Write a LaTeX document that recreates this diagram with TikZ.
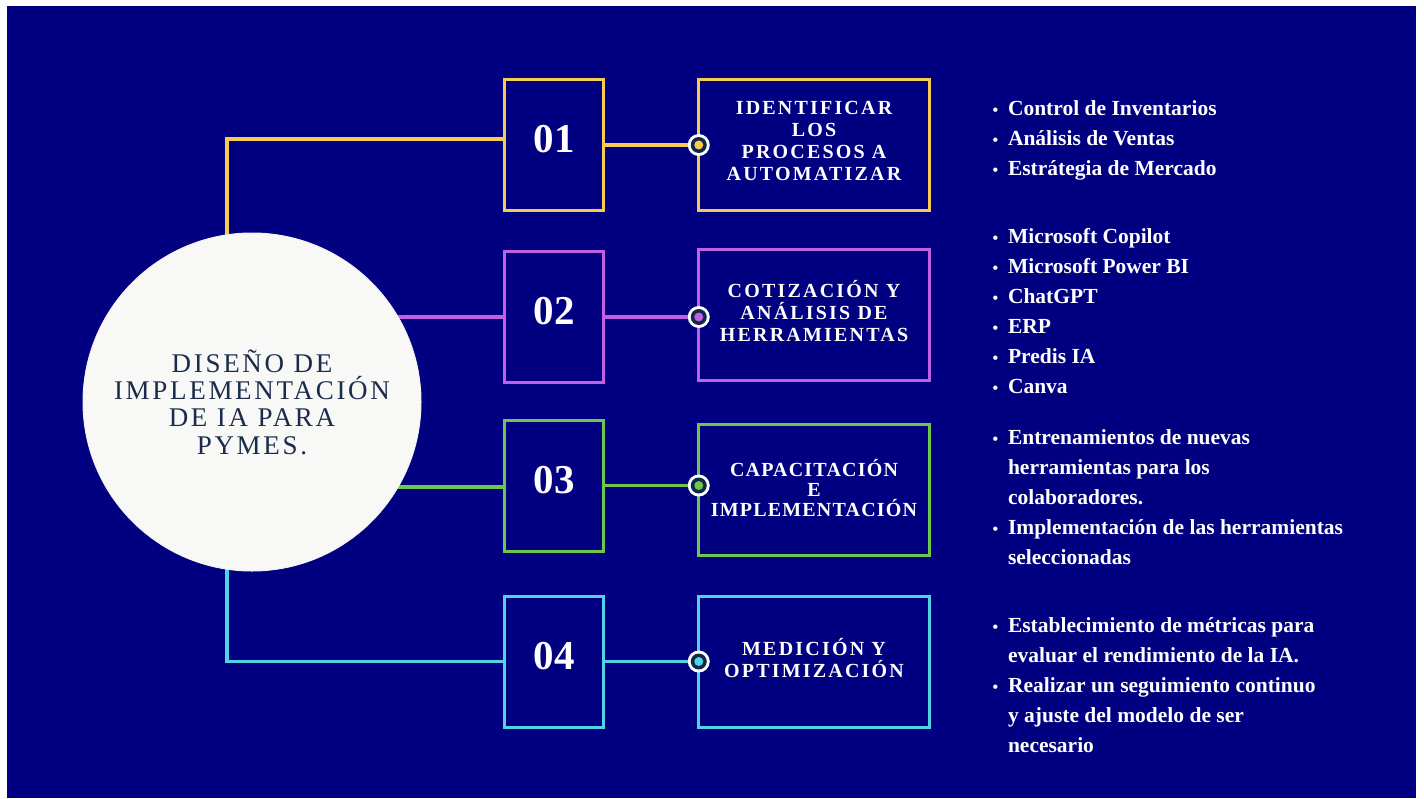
\documentclass[tikz,border=0pt]{standalone}
\usepackage{fontspec}
\setmainfont{Liberation Serif}
\newfontfamily\hubfont[LetterSpace=10]{Liberation Serif}
\newfontfamily\capfont[LetterSpace=11]{Liberation Serif}
\newfontfamily\tightcapfont[LetterSpace=6]{Liberation Serif}
\usepackage{xcolor}
\usetikzlibrary{positioning}

\definecolor{bgnavy}{RGB}{0,0,128}
\definecolor{cyel}{RGB}{246,203,79}
\definecolor{cpur}{RGB}{192,96,228}
\definecolor{cgrn}{RGB}{108,200,76}
\definecolor{ccya}{RGB}{80,210,232}
\definecolor{hubfill}{RGB}{248,248,246}
\definecolor{hubtext}{RGB}{26,43,76}
\definecolor{dotdark}{RGB}{16,40,72}

\pgfdeclarelayer{back}
\pgfdeclarelayer{wires}
\pgfsetlayers{back,wires,main}

\newcommand{\bul}{\rule{0pt}{16pt}\makebox[15.5pt][l]{\fontsize{16}{16}\selectfont\textbullet}}
\newcommand{\cont}{\hspace*{15.5pt}}

\begin{document}
\begin{tikzpicture}[x=1pt,y=-1pt]
\tikzstyle{every node}+=[inner sep=0pt,outer sep=0pt]
\tikzstyle{numbox}=[draw=#1,line width=3pt,minimum width=99pt,minimum height=131pt,
  text=white,text depth=12pt,font=\bfseries\fontsize{41}{41}\selectfont]
\tikzstyle{stepbox}=[draw=#1,line width=3pt,minimum width=230.5pt,minimum height=131pt,
  text=white,text depth=8pt,align=center,font=\capfont\bfseries\fontsize{20}{22}\selectfont]
\tikzstyle{wire}=[draw=#1,line width=3.2pt]
\tikzstyle{knob}=[circle,fill=white,minimum size=22pt,
  path picture={\fill[dotdark] (path picture bounding box.center) circle (8pt);
                \fill[#1] (path picture bounding box.center) circle (4.5pt);}]
\tikzstyle{bullets}=[anchor=north west,text=white,align=left,
  font=\bfseries\fontsize{21.5}{30}\selectfont]

% background
\begin{pgfonlayer}{back}
\fill[white] (0,0) rectangle (1424,798);
\fill[bgnavy] (7,6) rectangle (1416,798);
\end{pgfonlayer}

% centre
\node[circle,fill=hubfill,draw=black!6,line width=1pt,minimum size=338pt,text=hubtext,
  align=center,font=\hubfont\fontsize{27}{27.4}\selectfont] (hub) at (252,402)
  {DISEÑO DE\\IMPLEMENTACIÓN\\DE IA PARA\\PYMES.};

% steps
\node[numbox=cyel] (n1) at (554,145) {01};
\node[numbox=cpur] (n2) at (554,317) {02};
\node[numbox=cgrn] (n3) at (554,485.5) {03};
\node[numbox=ccya] (n4) at (554,661.5) {04};

\node[stepbox=cyel] (t1) at (814,145) {IDENTIFICAR\\LOS\\PROCESOS A\\AUTOMATIZAR};
\node[stepbox=cpur] (t2) at (814,315) {COTIZACIÓN Y\\ANÁLISIS DE\\HERRAMIENTAS};
\node[stepbox=cgrn,text depth=4pt,font=\tightcapfont\bfseries\fontsize{20}{20}\selectfont] (t3) at (814,490) {CAPACITACIÓN\\E\\IMPLEMENTACIÓN};
\node[stepbox=ccya] (t4) at (814,661.5) {MEDICIÓN Y\\OPTIMIZACIÓN};

\node[knob=cyel] (m1) at (t1.west |- n1.east) {};
\node[knob=cpur] (m2) at (t2.west |- n2.east) {};
\node[knob=cgrn] (m3) at (t3.west |- n3.east) {};
\node[knob=ccya] (m4) at (t4.west |- n4.east) {};

% connectors
\begin{pgfonlayer}{wires}
\draw[wire=cyel] ([yshift=6pt]n1.west) -| ([xshift=-25pt]hub.center);
\draw[wire=cpur] (n2.west) -- (n2.west -| hub.center);
\draw[wire=cgrn] ([yshift=-1.5pt]n3.west) -- ([yshift=-1.5pt]n3.west -| hub.center);
\draw[wire=ccya] (n4.west) -| ([xshift=-25pt]hub.center);
\draw[wire=cyel] (n1.east) -- (m1);
\draw[wire=cpur] (n2.east) -- (m2);
\draw[wire=cgrn] (n3.east) -- (m3);
\draw[wire=ccya] (n4.east) -- (m4);
\end{pgfonlayer}

% lists
\node[bullets] (l1) at (992.5,99) {\bul Control de Inventarios\\ \bul Análisis de Ventas\\ \bul Estrátegia de Mercado};
\node[bullets] (l2) at (992.5,227) {\bul Microsoft Copilot\\ \bul Microsoft Power BI\\ \bul ChatGPT\\ \bul ERP\\ \bul Predis IA\\ \bul Canva};
\node[bullets] (l3) at (992.5,428) {\bul Entrenamientos de nuevas\\ \cont herramientas para los\\ \cont colaboradores.\\ \bul Implementación de las herramientas\\ \cont seleccionadas};
\node[bullets] (l4) at (992.5,616) {\bul Establecimiento de métricas para\\ \cont evaluar el rendimiento de la IA.\\ \bul Realizar un seguimiento continuo\\ \cont y ajuste del modelo de ser\\ \cont necesario};
\end{tikzpicture}
\end{document}
